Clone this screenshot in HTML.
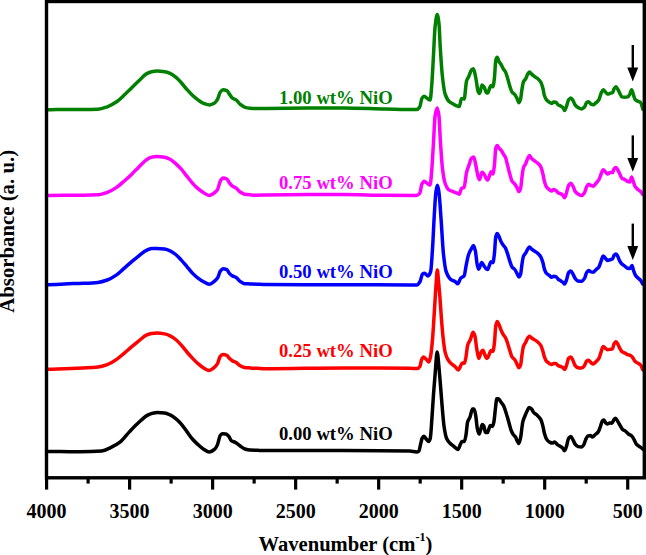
<!DOCTYPE html>
<html><head><meta charset="utf-8"><style>
html,body{margin:0;padding:0;background:#fff;}
body{width:646px;height:555px;overflow:hidden;}
svg{display:block;}
.t{font-family:"Liberation Serif",serif;font-weight:bold;font-size:20px;}
.l{font-family:"Liberation Serif",serif;font-weight:bold;font-size:18.7px;}
.a{font-family:"Liberation Serif",serif;font-weight:bold;font-size:21px;}
</style></head><body>
<svg width="646" height="555" viewBox="0 0 646 555">
<path fill="none" stroke="#008000" stroke-width="3.5" stroke-linejoin="round" stroke-linecap="round" d="M46.6,109.8C47.03,109.80 47.47,109.80 47.9,109.8C53.47,109.80 59.03,109.40 64.6,109.4C70.80,109.40 77.00,109.40 83.2,109.4C88.13,109.40 93.07,109.34 98.0,109.2C101.10,109.11 104.20,107.88 107.3,106.8C110.40,105.72 113.50,103.89 116.6,101.8C119.07,100.14 121.53,97.59 124.0,95.3C126.50,92.98 129.00,90.33 131.5,87.9C133.97,85.50 136.43,83.13 138.9,80.8C141.37,78.47 143.83,75.29 146.3,73.9C148.07,72.91 149.83,72.01 151.6,71.7C153.43,71.38 155.27,71.10 157.1,71.1C159.60,71.10 162.10,71.37 164.6,71.7C166.43,71.94 168.27,72.63 170.1,73.4C171.97,74.19 173.83,75.61 175.7,77.1C177.57,78.59 179.43,80.67 181.3,82.7C183.17,84.73 185.03,87.29 186.9,89.4C188.73,91.47 190.57,93.59 192.4,95.3C194.27,97.04 196.13,98.60 198.0,99.9C199.87,101.20 201.73,102.62 203.6,103.3C205.67,104.05 207.73,104.90 209.8,104.9C211.27,104.90 212.73,104.14 214.2,103.3C215.30,102.67 216.40,101.22 217.5,99.4C218.43,97.86 219.37,93.17 220.3,92.0C221.23,90.83 222.17,89.70 223.1,89.7C224.33,89.70 225.57,90.13 226.8,90.7C227.73,91.13 228.67,93.17 229.6,94.4C230.53,95.63 231.47,97.42 232.4,98.1C233.63,99.00 234.87,99.08 236.1,99.9C237.50,100.83 238.90,103.27 240.3,104.4C241.87,105.66 243.43,107.00 245.0,107.4C246.67,107.83 248.33,108.06 250.0,108.2C252.50,108.41 255.00,108.60 257.5,108.6C260.33,108.60 263.17,108.43 266.0,108.4C291.87,108.09 317.73,107.90 343.6,107.9C357.53,107.90 371.47,108.69 385.4,109.0C395.77,109.23 406.13,109.60 416.5,109.6C417.57,109.60 418.63,108.55 419.7,107.1C420.43,106.10 421.17,99.57 421.9,98.4C422.63,97.23 423.37,96.20 424.1,96.2C425.17,96.20 426.23,97.71 427.3,98.4C428.23,99.00 429.17,100.10 430.1,100.1C430.60,100.10 431.10,92.84 431.6,87.2C432.20,80.44 432.80,67.29 433.4,56.9C433.97,47.09 434.53,31.66 435.1,26.6C435.80,20.35 436.50,14.40 437.2,14.4C437.80,14.40 438.40,18.87 439.0,24.0C439.43,27.70 439.87,41.35 440.3,48.2C441.00,59.26 441.70,70.12 442.4,76.4C443.27,84.18 444.13,90.89 445.0,93.6C446.30,97.66 447.60,99.92 448.9,101.2C450.33,102.61 451.77,103.19 453.2,104.0C454.67,104.83 456.13,105.75 457.6,106.2C458.17,106.37 458.73,106.60 459.3,106.6C460.03,106.60 460.77,98.40 461.5,98.4C462.37,98.40 463.23,99.10 464.1,99.1C464.93,99.10 465.77,83.24 466.6,80.7C467.33,78.46 468.07,77.95 468.8,76.4C469.73,74.43 470.67,70.77 471.6,69.9C472.20,69.34 472.80,68.80 473.4,68.8C474.23,68.80 475.07,74.58 475.9,78.5C476.63,81.95 477.37,89.90 478.1,91.5C478.60,92.59 479.10,93.60 479.6,93.6C480.40,93.60 481.20,85.00 482.0,85.0C482.73,85.00 483.47,86.14 484.2,87.2C484.90,88.21 485.60,92.26 486.3,92.6C486.77,92.83 487.23,93.00 487.7,93.0C488.33,93.00 488.97,89.72 489.6,88.3C490.07,87.25 490.53,85.40 491.0,85.4C491.63,85.40 492.27,86.80 492.9,86.8C493.40,86.80 493.90,82.18 494.4,78.2C494.87,74.48 495.33,61.87 495.8,60.2C496.27,58.53 496.73,57.30 497.2,57.3C497.80,57.30 498.40,60.54 499.0,61.6C499.70,62.83 500.40,63.37 501.1,64.5C501.83,65.69 502.57,67.58 503.3,68.8C504.03,70.02 504.77,70.57 505.5,72.0C506.20,73.37 506.90,75.93 507.6,78.2C508.33,80.57 509.07,83.87 509.8,86.1C510.53,88.33 511.27,90.87 512.0,91.9C512.93,93.21 513.87,93.35 514.8,94.5C515.53,95.41 516.27,96.94 517.0,98.4C517.63,99.66 518.27,102.70 518.9,102.7C519.47,102.70 520.03,100.99 520.6,99.1C521.07,97.54 521.53,91.70 522.0,89.0C522.50,86.11 523.00,82.91 523.5,81.8C524.20,80.25 524.90,80.10 525.6,78.9C526.33,77.64 527.07,74.98 527.8,73.9C528.37,73.06 528.93,72.00 529.5,72.0C530.13,72.00 530.77,73.32 531.4,73.9C532.37,74.78 533.33,75.59 534.3,76.3C535.27,77.01 536.23,77.42 537.2,78.2C538.40,79.17 539.60,80.12 540.8,82.1C541.50,83.26 542.20,85.71 542.9,88.3C543.40,90.15 543.90,94.03 544.4,95.5C545.10,97.56 545.80,98.93 546.5,99.8C547.47,101.00 548.43,101.70 549.4,102.3C550.13,102.76 550.87,103.40 551.6,103.4C552.30,103.40 553.00,102.00 553.7,102.0C554.43,102.00 555.17,102.12 555.9,102.3C556.63,102.48 557.37,104.39 558.1,104.9C559.07,105.58 560.03,105.75 561.0,106.3C561.70,106.70 562.40,106.99 563.1,107.7C563.60,108.21 564.10,110.60 564.6,110.6C565.23,110.60 565.87,107.95 566.5,106.3C567.20,104.47 567.90,100.75 568.6,99.8C569.33,98.81 570.07,97.90 570.8,97.9C571.53,97.90 572.27,99.40 573.0,100.5C573.70,101.55 574.40,103.91 575.1,104.8C576.07,106.03 577.03,106.84 578.0,107.4C579.20,108.09 580.40,108.90 581.6,108.9C582.57,108.90 583.53,107.99 584.5,107.0C585.20,106.29 585.90,103.28 586.6,102.7C587.23,102.17 587.87,101.70 588.5,101.7C589.33,101.70 590.17,103.69 591.0,104.1C591.70,104.44 592.40,104.80 593.1,104.8C594.07,104.80 595.03,103.51 596.0,102.7C596.97,101.89 597.93,101.28 598.9,99.8C599.63,98.68 600.37,94.89 601.1,93.3C601.80,91.78 602.50,89.70 603.2,89.7C603.93,89.70 604.67,91.17 605.4,91.9C606.10,92.60 606.80,94.00 607.5,94.0C608.47,94.00 609.43,93.57 610.4,93.3C611.13,93.10 611.87,93.04 612.6,92.6C613.07,92.32 613.53,89.76 614.0,89.0C614.63,87.97 615.27,86.80 615.9,86.8C616.47,86.80 617.03,88.13 617.6,89.0C618.33,90.13 619.07,91.96 619.8,93.3C620.50,94.58 621.20,96.71 621.9,96.9C622.87,97.16 623.83,97.30 624.8,97.3C625.77,97.30 626.73,97.15 627.7,96.9C628.43,96.71 629.17,95.29 629.9,94.0C630.47,93.00 631.03,89.70 631.6,89.7C632.13,89.70 632.67,92.49 633.2,94.0C633.77,95.61 634.33,98.40 634.9,99.1C635.87,100.29 636.83,100.62 637.8,101.2C638.77,101.78 639.73,101.81 640.7,102.7C641.40,103.34 642.10,106.97 642.8,109.1"/><path fill="none" stroke="#ff00ff" stroke-width="3.5" stroke-linejoin="round" stroke-linecap="round" d="M46.6,195.6C47.03,195.57 47.47,195.52 47.9,195.5C53.47,195.30 59.03,195.20 64.6,195.2C70.80,195.20 77.00,195.20 83.2,195.2C88.13,195.20 93.07,195.06 98.0,194.8C101.10,194.64 104.20,193.48 107.3,192.4C110.40,191.32 113.50,189.45 116.6,187.4C119.07,185.77 121.53,183.35 124.0,181.2C126.50,179.02 129.00,176.79 131.5,174.4C133.97,172.04 136.43,169.31 138.9,166.9C141.37,164.49 143.83,161.55 146.3,159.9C148.07,158.72 149.83,157.42 151.6,157.1C153.43,156.77 155.27,156.50 157.1,156.5C159.60,156.50 162.10,156.88 164.6,157.3C166.43,157.61 168.27,158.40 170.1,159.3C171.97,160.22 173.83,161.98 175.7,163.6C177.57,165.22 179.43,167.13 181.3,169.2C183.17,171.27 185.03,173.86 186.9,176.2C188.73,178.50 190.57,181.06 192.4,183.1C194.27,185.18 196.13,187.14 198.0,188.7C199.87,190.26 201.73,191.60 203.6,192.7C205.47,193.80 207.33,195.50 209.2,195.5C210.73,195.50 212.27,194.30 213.8,193.3C215.03,192.49 216.27,191.49 217.5,189.6C218.43,188.17 219.37,182.71 220.3,181.2C221.23,179.69 222.17,178.10 223.1,178.1C224.33,178.10 225.57,178.47 226.8,179.0C227.73,179.40 228.67,181.92 229.6,183.1C230.53,184.28 231.47,185.53 232.4,186.2C233.63,187.08 234.87,187.26 236.1,188.1C237.33,188.94 238.57,190.96 239.8,191.8C241.37,192.87 242.93,193.91 244.5,194.2C246.33,194.54 248.17,194.67 250.0,194.8C252.50,194.98 255.00,195.20 257.5,195.2C260.33,195.20 263.17,195.03 266.0,195.0C291.87,194.69 317.73,194.50 343.6,194.5C357.53,194.50 371.47,195.17 385.4,195.3C395.60,195.40 405.80,195.50 416.0,195.5C417.23,195.50 418.47,194.72 419.7,193.4C420.43,192.62 421.17,185.57 421.9,184.1C422.63,182.63 423.37,181.20 424.1,181.2C425.17,181.20 426.23,182.71 427.3,183.4C428.23,184.00 429.17,185.10 430.1,185.1C430.60,185.10 431.10,177.70 431.6,172.2C432.20,165.60 432.80,153.75 433.4,144.1C433.97,134.98 434.53,119.45 435.1,115.9C435.80,111.51 436.50,108.00 437.2,108.0C437.80,108.00 438.40,111.57 439.0,116.0C439.43,119.20 439.87,132.93 440.3,139.7C441.00,150.64 441.70,162.02 442.4,167.8C443.27,174.95 444.13,180.56 445.0,183.0C446.30,186.66 447.60,189.05 448.9,189.9C450.33,190.84 451.77,191.02 453.2,191.6C454.67,192.19 456.13,192.75 457.6,193.4C458.17,193.65 458.73,194.20 459.3,194.2C460.03,194.20 460.77,188.95 461.5,188.4C462.37,187.76 463.23,187.99 464.1,187.3C464.93,186.64 465.77,175.48 466.6,172.2C467.33,169.31 468.07,167.78 468.8,165.7C469.73,163.05 470.67,158.87 471.6,158.1C472.33,157.50 473.07,157.00 473.8,157.0C474.50,157.00 475.20,162.56 475.9,165.7C476.63,168.99 477.37,174.37 478.1,176.5C478.60,177.95 479.10,179.70 479.6,179.7C480.40,179.70 481.20,172.20 482.0,172.2C482.73,172.20 483.47,173.34 484.2,174.3C484.90,175.21 485.60,177.64 486.3,178.6C486.77,179.24 487.23,180.10 487.7,180.1C488.33,180.10 488.97,177.00 489.6,175.4C490.07,174.22 490.53,171.80 491.0,171.8C491.63,171.80 492.27,174.00 492.9,174.0C493.40,174.00 493.90,169.33 494.4,165.4C494.87,161.73 495.33,149.61 495.8,148.1C496.27,146.59 496.73,145.50 497.2,145.5C497.80,145.50 498.40,147.39 499.0,148.1C499.70,148.93 500.40,149.33 501.1,150.2C501.83,151.11 502.57,152.60 503.3,153.8C504.03,155.00 504.77,155.72 505.5,157.4C506.20,159.01 506.90,162.70 507.6,165.4C508.33,168.23 509.07,171.39 509.8,174.0C510.53,176.61 511.27,180.02 512.0,181.2C512.93,182.70 513.87,182.91 514.8,184.1C515.53,185.04 516.27,186.36 517.0,187.7C517.63,188.86 518.27,191.60 518.9,191.6C519.47,191.60 520.03,190.17 520.6,188.4C521.07,186.94 521.53,180.22 522.0,176.9C522.50,173.34 523.00,168.89 523.5,167.5C524.20,165.55 524.90,165.34 525.6,163.9C526.33,162.39 527.07,159.60 527.8,158.2C528.37,157.12 528.93,155.60 529.5,155.6C530.13,155.60 530.77,157.52 531.4,158.2C532.37,159.24 533.33,159.94 534.3,160.7C535.27,161.46 536.23,161.96 537.2,162.8C538.40,163.84 539.60,164.69 540.8,166.8C541.50,168.03 542.20,171.17 542.9,174.0C543.40,176.02 543.90,179.42 544.4,181.2C545.10,183.69 545.80,186.03 546.5,187.0C547.47,188.35 548.43,188.89 549.4,189.6C550.13,190.14 550.87,191.00 551.6,191.0C552.30,191.00 553.00,189.60 553.7,189.6C554.43,189.60 555.17,190.15 555.9,190.6C556.63,191.05 557.37,192.27 558.1,192.7C559.07,193.27 560.03,193.36 561.0,193.9C561.70,194.29 562.40,194.87 563.1,195.6C563.60,196.12 564.10,197.70 564.6,197.7C565.23,197.70 565.87,194.58 566.5,192.7C567.20,190.62 567.90,186.59 568.6,185.5C569.33,184.36 570.07,183.30 570.8,183.3C571.53,183.30 572.27,184.94 573.0,186.2C573.70,187.40 574.40,190.31 575.1,191.3C576.07,192.67 577.03,193.53 578.0,194.1C579.20,194.81 580.40,195.60 581.6,195.6C582.57,195.60 583.53,194.16 584.5,192.7C585.20,191.65 585.90,188.17 586.6,186.9C587.23,185.75 587.87,184.30 588.5,184.3C589.33,184.30 590.17,185.17 591.0,185.5C591.70,185.77 592.40,186.20 593.1,186.2C594.07,186.20 595.03,184.37 596.0,183.3C596.97,182.23 597.93,181.35 598.9,179.7C599.63,178.45 600.37,175.68 601.1,174.0C601.80,172.40 602.50,169.70 603.2,169.7C603.93,169.70 604.67,171.07 605.4,171.8C606.10,172.50 606.80,174.00 607.5,174.0C608.47,174.00 609.43,172.50 610.4,172.5C611.13,172.50 611.87,172.50 612.6,172.5C613.07,172.50 613.53,169.45 614.0,168.9C614.63,168.15 615.27,167.50 615.9,167.5C616.47,167.50 617.03,168.83 617.6,169.7C618.33,170.83 619.07,172.53 619.8,174.0C620.50,175.40 621.20,177.80 621.9,178.3C622.87,178.99 623.83,179.00 624.8,179.5C625.77,180.00 626.73,181.23 627.7,181.5C628.43,181.71 629.17,181.90 629.9,181.9C630.47,181.90 631.03,177.10 631.6,177.1C632.13,177.10 632.67,179.74 633.2,181.2C633.77,182.75 634.33,185.23 634.9,186.2C635.87,187.85 636.83,188.64 637.8,189.5C638.77,190.36 639.73,190.68 640.7,191.6C641.40,192.27 642.10,193.47 642.8,194.4"/><path fill="none" stroke="#0000ff" stroke-width="3.5" stroke-linejoin="round" stroke-linecap="round" d="M46.6,284.9C47.03,284.87 47.47,284.83 47.9,284.8C53.47,284.43 59.03,284.13 64.6,283.9C70.80,283.65 77.00,283.56 83.2,283.3C88.13,283.09 93.07,282.91 98.0,282.4C101.10,282.08 104.20,281.09 107.3,280.0C110.40,278.91 113.50,277.01 116.6,274.9C119.07,273.22 121.53,270.55 124.0,268.4C126.50,266.22 129.00,264.01 131.5,261.9C133.97,259.82 136.43,257.71 138.9,255.8C141.37,253.89 143.83,251.52 146.3,250.4C148.07,249.60 149.83,248.72 151.6,248.6C153.43,248.48 155.27,248.40 157.1,248.4C159.60,248.40 162.10,248.73 164.6,249.1C166.43,249.37 168.27,250.03 170.1,250.8C171.97,251.59 173.83,253.01 175.7,254.5C177.57,255.99 179.43,258.09 181.3,260.1C183.17,262.11 185.03,264.41 186.9,266.6C188.73,268.75 190.57,271.23 192.4,273.1C194.27,275.00 196.13,276.68 198.0,278.1C199.87,279.52 201.73,280.83 203.6,281.8C205.47,282.77 207.33,284.20 209.2,284.2C210.73,284.20 212.27,282.86 213.8,281.8C215.03,280.94 216.27,279.89 217.5,278.1C218.43,276.75 219.37,272.39 220.3,271.2C221.23,270.01 222.17,268.80 223.1,268.8C224.33,268.80 225.57,269.17 226.8,269.7C227.73,270.10 228.67,272.64 229.6,273.6C230.53,274.56 231.47,275.39 232.4,275.9C233.63,276.58 234.87,276.69 236.1,277.4C237.33,278.11 238.57,280.21 239.8,281.1C241.37,282.23 242.93,283.59 244.5,283.7C246.33,283.83 248.17,283.83 250.0,283.9C252.50,284.00 255.00,284.11 257.5,284.2C260.33,284.31 263.17,284.47 266.0,284.5C291.87,284.73 317.73,284.74 343.6,284.8C365.73,284.85 387.87,284.90 410.0,284.9C412.27,284.90 414.53,284.90 416.8,284.9C417.90,284.90 419.00,283.27 420.1,281.5C420.87,280.27 421.63,274.65 422.4,274.1C423.13,273.57 423.87,273.20 424.6,273.2C425.73,273.20 426.87,275.90 428.0,275.9C428.90,275.90 429.80,274.19 430.7,271.4C431.30,269.54 431.90,257.91 432.5,248.9C433.10,239.89 433.70,224.87 434.3,215.1C434.83,206.42 435.37,195.62 435.9,192.0C436.40,188.61 436.90,185.30 437.4,185.3C437.90,185.30 438.40,188.80 438.9,192.0C439.63,196.69 440.37,209.68 441.1,219.6C441.87,229.97 442.63,246.30 443.4,253.4C444.30,261.74 445.20,268.77 446.1,271.4C447.60,275.78 449.10,278.15 450.6,279.3C452.10,280.45 453.60,280.55 455.1,281.5C456.00,282.07 456.90,283.80 457.8,283.8C458.77,283.80 459.73,279.18 460.7,278.2C461.83,277.05 462.97,277.33 464.1,275.9C464.83,274.97 465.57,268.07 466.3,264.6C467.07,260.97 467.83,256.68 468.6,254.5C469.50,251.94 470.40,250.49 471.3,248.9C472.03,247.61 472.77,245.50 473.5,245.5C474.13,245.50 474.77,248.41 475.4,251.1C476.00,253.65 476.60,262.02 477.2,264.6C477.70,266.75 478.20,269.20 478.7,269.2C479.70,269.20 480.70,262.40 481.7,262.4C482.43,262.40 483.17,264.78 483.9,265.8C484.80,267.05 485.70,268.83 486.6,269.2C486.97,269.35 487.33,269.50 487.7,269.5C488.33,269.50 488.97,266.13 489.6,264.7C490.07,263.64 490.53,261.80 491.0,261.8C491.63,261.80 492.27,262.60 492.9,262.6C493.40,262.60 493.90,257.86 494.4,253.9C494.87,250.20 495.33,238.35 495.8,236.6C496.27,234.85 496.73,233.50 497.2,233.5C497.80,233.50 498.40,235.40 499.0,236.6C499.70,238.00 500.40,240.33 501.1,241.7C501.83,243.14 502.57,244.23 503.3,245.3C504.03,246.37 504.77,246.90 505.5,248.2C506.20,249.45 506.90,251.82 507.6,253.9C508.33,256.07 509.07,258.96 509.8,261.1C510.53,263.24 511.27,265.87 512.0,266.9C512.93,268.21 513.87,268.35 514.8,269.5C515.53,270.41 516.27,272.06 517.0,273.4C517.63,274.56 518.27,277.00 518.9,277.0C519.47,277.00 520.03,275.70 520.6,274.1C521.07,272.79 521.53,266.85 522.0,264.0C522.50,260.95 523.00,257.23 523.5,256.1C524.20,254.52 524.90,254.33 525.6,253.2C526.33,252.01 527.07,249.93 527.8,248.9C528.37,248.10 528.93,247.00 529.5,247.0C530.13,247.00 530.77,248.36 531.4,248.9C532.37,249.72 533.33,250.35 534.3,251.0C535.27,251.65 536.23,252.04 537.2,252.8C538.40,253.75 539.60,254.82 540.8,256.8C541.50,257.95 542.20,260.21 542.9,262.6C543.40,264.31 543.90,267.68 544.4,269.1C545.10,271.09 545.80,272.63 546.5,273.4C547.47,274.46 548.43,274.76 549.4,275.5C550.13,276.06 550.87,277.30 551.6,277.3C552.30,277.30 553.00,276.30 553.7,276.3C554.43,276.30 555.17,276.47 555.9,276.7C556.63,276.93 557.37,278.49 558.1,279.1C559.07,279.90 560.03,280.34 561.0,281.0C561.70,281.48 562.40,281.91 563.1,282.5C563.60,282.92 564.10,284.00 564.6,284.0C565.23,284.00 565.87,281.50 566.5,279.8C567.20,277.93 567.90,273.49 568.6,272.6C569.33,271.67 570.07,270.90 570.8,270.9C571.53,270.90 572.27,272.85 573.0,274.1C573.70,275.29 574.40,277.51 575.1,278.4C576.07,279.63 577.03,280.85 578.0,281.0C579.20,281.19 580.40,281.30 581.6,281.3C582.57,281.30 583.53,279.86 584.5,278.4C585.20,277.35 585.90,273.70 586.6,272.6C587.23,271.61 587.87,270.50 588.5,270.5C589.33,270.50 590.17,271.67 591.0,271.9C591.70,272.10 592.40,272.30 593.1,272.3C594.07,272.30 595.03,270.60 596.0,269.7C596.97,268.80 597.93,268.30 598.9,266.9C599.63,265.84 600.37,262.93 601.1,261.1C601.80,259.35 602.50,256.10 603.2,256.1C603.93,256.10 604.67,257.47 605.4,258.2C606.10,258.90 606.80,260.40 607.5,260.4C608.47,260.40 609.43,259.98 610.4,259.7C611.13,259.49 611.87,259.39 612.6,258.9C613.07,258.59 613.53,255.85 614.0,255.3C614.63,254.55 615.27,253.90 615.9,253.9C616.47,253.90 617.03,255.18 617.6,256.1C618.33,257.30 619.07,259.84 619.8,261.1C620.50,262.30 621.20,263.32 621.9,264.0C622.87,264.93 623.83,265.38 624.8,266.1C625.77,266.82 626.73,268.08 627.7,268.3C628.43,268.46 629.17,268.60 629.9,268.6C630.60,268.60 631.30,265.40 632.0,265.4C632.50,265.40 633.00,269.09 633.5,270.5C634.20,272.48 634.90,274.49 635.6,275.5C636.57,276.89 637.53,277.46 638.5,278.4C639.23,279.12 639.97,279.60 640.7,280.5C641.40,281.36 642.10,282.90 642.8,284.1"/><path fill="none" stroke="#ff0000" stroke-width="3.5" stroke-linejoin="round" stroke-linecap="round" d="M46.6,369.3C47.03,369.27 47.47,369.22 47.9,369.2C53.47,368.93 59.03,368.90 64.6,368.7C70.80,368.48 77.00,368.21 83.2,367.9C88.13,367.65 93.07,367.51 98.0,367.0C101.10,366.68 104.20,365.69 107.3,364.6C110.40,363.51 113.50,361.47 116.6,359.4C119.07,357.76 121.53,355.47 124.0,353.4C126.50,351.31 129.00,349.01 131.5,346.9C133.97,344.82 136.43,342.75 138.9,340.8C141.37,338.85 143.83,336.33 146.3,335.2C148.07,334.39 149.83,333.61 151.6,333.4C153.43,333.18 155.27,333.00 157.1,333.0C159.60,333.00 162.10,333.44 164.6,333.9C166.43,334.23 168.27,334.97 170.1,335.8C171.97,336.65 173.83,338.01 175.7,339.5C177.57,340.99 179.43,343.04 181.3,345.1C183.17,347.16 185.03,349.82 186.9,352.0C188.73,354.14 190.57,356.17 192.4,358.1C194.27,360.06 196.13,362.10 198.0,363.7C199.87,365.30 201.73,366.83 203.6,367.9C205.47,368.97 207.33,370.50 209.2,370.5C210.73,370.50 212.27,369.07 213.8,367.9C215.03,366.96 216.27,365.70 217.5,363.7C218.43,362.18 219.37,357.17 220.3,356.2C221.23,355.23 222.17,354.40 223.1,354.4C224.33,354.40 225.57,354.79 226.8,355.3C227.73,355.69 228.67,357.70 229.6,358.6C230.53,359.50 231.47,360.39 232.4,360.9C233.63,361.58 234.87,361.73 236.1,362.4C237.33,363.07 238.57,364.82 239.8,365.5C241.37,366.37 242.93,367.16 244.5,367.4C246.33,367.68 248.17,367.78 250.0,367.9C252.50,368.07 255.00,368.17 257.5,368.3C260.33,368.44 263.17,368.70 266.0,368.7C291.87,368.70 317.73,367.90 343.6,367.9C365.73,367.90 387.87,368.01 410.0,368.3C412.40,368.33 414.80,368.60 417.2,368.6C418.10,368.60 419.00,367.73 419.9,366.5C420.50,365.68 421.10,360.42 421.7,359.3C422.30,358.18 422.90,357.10 423.5,357.1C424.40,357.10 425.30,358.49 426.2,359.3C427.10,360.11 428.00,362.00 428.9,362.0C429.50,362.00 430.10,358.72 430.7,355.7C431.30,352.68 431.90,346.26 432.5,339.5C433.10,332.74 433.70,321.64 434.3,312.4C434.90,303.16 435.50,291.97 436.1,284.0C436.50,278.69 436.90,270.00 437.3,270.0C437.73,270.00 438.17,277.59 438.6,282.0C438.97,285.73 439.33,289.86 439.7,294.4C440.30,301.83 440.90,312.19 441.5,319.6C442.10,327.01 442.70,334.36 443.3,339.5C443.90,344.64 444.50,349.71 445.1,352.1C446.00,355.68 446.90,357.74 447.8,359.3C449.00,361.38 450.20,362.68 451.4,363.8C452.60,364.93 453.80,365.43 455.0,366.5C456.10,367.48 457.20,370.10 458.3,370.1C459.03,370.10 459.77,367.42 460.5,366.1C461.10,365.02 461.70,362.90 462.3,362.9C463.00,362.90 463.70,363.20 464.4,363.2C464.90,363.20 465.40,359.94 465.9,357.5C466.50,354.57 467.10,346.84 467.7,344.9C468.60,341.99 469.50,341.56 470.4,339.5C471.30,337.44 472.20,332.30 473.1,332.3C473.70,332.30 474.30,334.03 474.9,335.9C475.50,337.77 476.10,345.10 476.7,348.5C477.40,352.46 478.10,358.40 478.8,358.4C479.60,358.40 480.40,353.23 481.2,352.1C481.80,351.25 482.40,350.30 483.0,350.3C483.60,350.30 484.20,353.47 484.8,354.8C485.40,356.13 486.00,358.40 486.6,358.4C486.97,358.40 487.33,358.05 487.7,357.7C488.33,357.10 488.97,354.65 489.6,353.3C490.07,352.30 490.53,350.50 491.0,350.5C491.63,350.50 492.27,351.20 492.9,351.2C493.40,351.20 493.90,346.94 494.4,343.2C494.87,339.71 495.33,328.20 495.8,325.9C496.27,323.60 496.73,321.60 497.2,321.6C497.80,321.60 498.40,323.29 499.0,324.5C499.70,325.92 500.40,328.70 501.1,330.3C501.83,331.98 502.57,333.38 503.3,334.6C504.03,335.82 504.77,336.43 505.5,337.8C506.20,339.10 506.90,341.17 507.6,343.2C508.33,345.32 509.07,348.23 509.8,350.5C510.53,352.77 511.27,355.76 512.0,356.9C512.93,358.35 513.87,358.52 514.8,359.8C515.53,360.81 516.27,362.69 517.0,364.1C517.63,365.32 518.27,367.70 518.9,367.7C519.47,367.70 520.03,366.45 520.6,364.9C521.07,363.62 521.53,357.80 522.0,354.8C522.50,351.58 523.00,347.46 523.5,346.1C524.20,344.19 524.90,343.83 525.6,342.5C526.33,341.11 527.07,338.70 527.8,337.8C528.37,337.10 528.93,336.30 529.5,336.3C530.13,336.30 530.77,337.36 531.4,337.8C532.37,338.48 533.33,338.98 534.3,339.6C535.27,340.22 536.23,340.72 537.2,341.5C538.40,342.47 539.60,343.46 540.8,345.4C541.50,346.53 542.20,348.94 542.9,351.2C543.40,352.81 543.90,355.53 544.4,356.9C545.10,358.82 545.80,360.53 546.5,361.3C547.47,362.37 548.43,362.80 549.4,363.4C550.13,363.85 550.87,364.60 551.6,364.6C552.30,364.60 553.00,363.40 553.7,363.4C554.43,363.40 555.17,363.40 555.9,363.4C556.63,363.40 557.37,365.22 558.1,365.6C559.07,366.11 560.03,366.19 561.0,366.6C561.70,366.89 562.40,367.18 563.1,367.7C563.60,368.07 564.10,369.50 564.6,369.5C565.23,369.50 565.87,367.15 566.5,365.5C567.20,363.68 567.90,359.06 568.6,358.3C569.33,357.51 570.07,356.90 570.8,356.9C571.53,356.90 572.27,359.08 573.0,360.5C573.70,361.86 574.40,364.67 575.1,365.5C576.07,366.64 577.03,367.55 578.0,367.7C579.20,367.89 580.40,368.00 581.6,368.0C582.57,368.00 583.53,366.70 584.5,365.5C585.20,364.63 585.90,361.78 586.6,361.2C587.23,360.67 587.87,360.20 588.5,360.2C589.33,360.20 590.17,362.04 591.0,362.7C591.70,363.26 592.40,364.10 593.1,364.1C594.07,364.10 595.03,362.64 596.0,361.7C596.97,360.76 597.93,359.95 598.9,358.3C599.63,357.05 600.37,353.92 601.1,351.9C601.80,349.97 602.50,346.40 603.2,346.4C603.93,346.40 604.67,347.75 605.4,348.3C606.10,348.83 606.80,349.70 607.5,349.7C608.47,349.70 609.43,349.48 610.4,349.3C611.13,349.16 611.87,349.10 612.6,348.7C613.07,348.45 613.53,344.70 614.0,343.9C614.63,342.81 615.27,341.80 615.9,341.8C616.47,341.80 617.03,343.04 617.6,343.9C618.33,345.01 619.07,347.01 619.8,348.3C620.50,349.53 621.20,351.07 621.9,351.6C622.87,352.33 623.83,352.49 624.8,353.0C625.77,353.51 626.73,354.34 627.7,354.7C628.67,355.06 629.63,355.07 630.6,355.5C631.30,355.81 632.00,356.73 632.7,357.6C633.43,358.51 634.17,360.50 634.9,361.2C635.87,362.12 636.83,362.45 637.8,363.1C638.77,363.75 639.73,364.05 640.7,365.1C641.40,365.86 642.10,368.30 642.8,369.9"/><path fill="none" stroke="#000000" stroke-width="3.5" stroke-linejoin="round" stroke-linecap="round" d="M46.6,451.6C51.07,451.57 55.53,451.50 60.0,451.5C66.67,451.50 73.33,451.80 80.0,451.8C87.23,451.80 94.47,451.55 101.7,451.0C104.80,450.77 107.90,448.86 111.0,447.4C114.10,445.94 117.20,444.21 120.3,441.8C123.40,439.39 126.50,434.84 129.6,431.6C132.70,428.36 135.80,425.05 138.9,422.3C142.00,419.55 145.10,416.34 148.2,414.9C150.03,414.05 151.87,413.31 153.7,413.0C154.83,412.81 155.97,412.60 157.1,412.6C159.60,412.60 162.10,412.76 164.6,413.0C166.43,413.18 168.27,414.07 170.1,414.9C171.97,415.75 173.83,417.13 175.7,418.6C177.57,420.07 179.43,421.98 181.3,424.1C183.17,426.22 185.03,429.09 186.9,431.6C188.73,434.06 190.57,436.90 192.4,439.0C194.27,441.14 196.13,442.92 198.0,444.6C199.87,446.28 201.73,448.04 203.6,449.2C205.47,450.36 207.33,452.00 209.2,452.0C211.03,452.00 212.87,450.71 214.7,449.2C215.63,448.43 216.57,446.65 217.5,444.6C218.43,442.55 219.37,436.33 220.3,435.3C221.03,434.49 221.77,433.80 222.5,433.8C223.63,433.80 224.77,433.92 225.9,434.1C226.83,434.25 227.77,435.23 228.7,436.2C229.63,437.17 230.57,440.27 231.5,440.9C232.73,441.73 233.97,441.76 235.2,442.4C236.63,443.14 238.07,444.53 239.5,445.5C241.33,446.74 243.17,448.45 245.0,449.0C246.67,449.50 248.33,449.88 250.0,450.0C252.50,450.17 255.00,450.21 257.5,450.3C260.33,450.41 263.17,450.60 266.0,450.6C291.87,450.60 317.73,450.60 343.6,450.6C365.73,450.60 387.87,450.68 410.0,451.1C412.17,451.14 414.33,452.00 416.5,452.0C417.30,452.00 418.10,451.68 418.9,451.1C419.43,450.71 419.97,446.69 420.5,444.6C421.07,442.38 421.63,439.26 422.2,438.2C422.73,437.20 423.27,436.20 423.8,436.2C424.60,436.20 425.40,438.16 426.2,439.0C427.03,439.88 427.87,441.40 428.7,441.4C429.23,441.40 429.77,440.03 430.3,438.2C430.83,436.37 431.37,425.93 431.9,418.7C432.43,411.47 432.97,401.61 433.5,394.3C434.07,386.54 434.63,379.87 435.2,373.2C435.83,365.75 436.47,352.00 437.1,352.0C437.80,352.00 438.50,362.90 439.2,370.0C439.73,375.41 440.27,382.94 440.8,389.5C441.37,396.47 441.93,404.29 442.5,410.6C443.03,416.54 443.57,423.27 444.1,426.8C444.90,432.10 445.70,436.37 446.5,438.2C447.60,440.72 448.70,441.83 449.8,443.0C451.13,444.42 452.47,445.23 453.8,446.3C455.17,447.40 456.53,449.50 457.9,449.5C458.70,449.50 459.50,446.22 460.3,444.6C460.83,443.52 461.37,441.40 461.9,441.4C462.73,441.40 463.57,441.40 464.4,441.4C464.93,441.40 465.47,437.79 466.0,434.9C466.53,432.01 467.07,423.68 467.6,421.9C468.40,419.22 469.20,419.08 470.0,417.1C470.83,415.03 471.67,408.90 472.5,408.9C473.03,408.90 473.57,408.90 474.1,408.9C474.63,408.90 475.17,412.51 475.7,415.4C476.23,418.29 476.77,425.86 477.3,428.4C477.87,431.10 478.43,434.10 479.0,434.1C479.53,434.10 480.07,431.58 480.6,430.0C481.13,428.42 481.67,424.40 482.2,424.4C482.73,424.40 483.27,425.16 483.8,426.0C484.37,426.89 484.93,432.44 485.5,432.5C486.13,432.57 486.77,432.60 487.4,432.6C487.90,432.60 488.40,430.24 488.9,429.0C489.37,427.84 489.83,425.40 490.3,425.4C491.03,425.40 491.77,426.40 492.5,426.4C492.97,426.40 493.43,424.01 493.9,421.8C494.40,419.43 494.90,412.73 495.4,408.8C495.87,405.13 496.33,398.70 496.8,398.7C497.30,398.70 497.80,398.70 498.3,398.7C499.00,398.70 499.70,400.40 500.4,401.3C501.37,402.54 502.33,403.45 503.3,405.2C504.27,406.95 505.23,410.24 506.2,413.2C507.17,416.16 508.13,419.85 509.1,423.2C509.80,425.62 510.50,428.74 511.2,430.5C511.93,432.34 512.67,433.83 513.4,434.8C514.10,435.72 514.80,435.89 515.5,436.9C516.00,437.62 516.50,439.56 517.0,440.5C517.63,441.69 518.27,443.40 518.9,443.4C519.47,443.40 520.03,440.26 520.6,437.7C521.33,434.39 522.07,424.72 522.8,421.8C523.50,419.01 524.20,417.75 524.9,416.0C525.63,414.17 526.37,412.43 527.1,411.0C527.80,409.63 528.50,407.40 529.2,407.4C529.93,407.40 530.67,408.13 531.4,408.8C532.13,409.47 532.87,411.59 533.6,412.4C534.80,413.73 536.00,414.15 537.2,415.3C538.40,416.45 539.60,417.45 540.8,419.6C541.50,420.86 542.20,423.43 542.9,426.1C543.40,428.00 543.90,431.52 544.4,433.3C545.10,435.79 545.80,438.05 546.5,439.1C547.47,440.56 548.43,441.47 549.4,442.0C550.37,442.53 551.33,443.10 552.3,443.1C553.03,443.10 553.77,442.00 554.5,442.0C555.47,442.00 556.43,443.90 557.4,444.6C558.33,445.27 559.27,445.72 560.2,446.3C560.93,446.76 561.67,447.06 562.4,447.7C563.13,448.34 563.87,450.70 564.6,450.7C565.23,450.70 565.87,448.12 566.5,446.3C567.20,444.29 567.90,439.25 568.6,438.3C569.33,437.31 570.07,436.50 570.8,436.5C571.53,436.50 572.27,438.53 573.0,439.8C573.70,441.01 574.40,443.23 575.1,444.1C576.07,445.30 577.03,446.40 578.0,446.6C579.20,446.84 580.40,447.00 581.6,447.0C582.33,447.00 583.07,445.88 583.8,444.8C584.50,443.77 585.20,440.43 585.9,439.1C586.63,437.71 587.37,436.14 588.1,435.9C588.83,435.66 589.57,435.50 590.3,435.5C591.00,435.50 591.70,436.90 592.4,436.9C593.37,436.90 594.33,435.33 595.3,434.5C596.27,433.67 597.23,433.20 598.2,431.9C598.90,430.96 599.60,428.63 600.3,426.8C601.03,424.89 601.77,421.12 602.5,420.6C602.97,420.27 603.43,420.00 603.9,420.0C604.40,420.00 604.90,421.96 605.4,422.5C606.00,423.14 606.60,423.90 607.2,423.9C608.03,423.90 608.87,422.90 609.7,422.9C610.43,422.90 611.17,423.20 611.9,423.2C612.60,423.20 613.30,420.43 614.0,419.6C614.50,419.01 615.00,418.20 615.5,418.2C616.20,418.20 616.90,420.03 617.6,421.1C618.57,422.57 619.53,424.48 620.5,426.1C621.23,427.33 621.97,429.13 622.7,429.7C623.63,430.43 624.57,430.48 625.5,431.1C626.47,431.74 627.43,433.26 628.4,434.0C629.60,434.92 630.80,435.09 632.0,436.2C632.73,436.88 633.47,438.46 634.2,439.8C634.90,441.07 635.60,443.31 636.3,444.1C637.27,445.20 638.23,445.58 639.2,446.3C640.17,447.02 641.13,447.64 642.1,448.4C642.73,448.90 643.37,449.47 644.0,450.0"/>
<line x1="46.60" y1="477.8" x2="46.60" y2="489.6" stroke="#000" stroke-width="3.2"/><line x1="88.11" y1="477.8" x2="88.11" y2="483.6" stroke="#000" stroke-width="3.2"/><line x1="129.62" y1="477.8" x2="129.62" y2="489.6" stroke="#000" stroke-width="3.2"/><line x1="171.12" y1="477.8" x2="171.12" y2="483.6" stroke="#000" stroke-width="3.2"/><line x1="212.63" y1="477.8" x2="212.63" y2="489.6" stroke="#000" stroke-width="3.2"/><line x1="254.14" y1="477.8" x2="254.14" y2="483.6" stroke="#000" stroke-width="3.2"/><line x1="295.65" y1="477.8" x2="295.65" y2="489.6" stroke="#000" stroke-width="3.2"/><line x1="337.15" y1="477.8" x2="337.15" y2="483.6" stroke="#000" stroke-width="3.2"/><line x1="378.66" y1="477.8" x2="378.66" y2="489.6" stroke="#000" stroke-width="3.2"/><line x1="420.17" y1="477.8" x2="420.17" y2="483.6" stroke="#000" stroke-width="3.2"/><line x1="461.68" y1="477.8" x2="461.68" y2="489.6" stroke="#000" stroke-width="3.2"/><line x1="503.18" y1="477.8" x2="503.18" y2="483.6" stroke="#000" stroke-width="3.2"/><line x1="544.69" y1="477.8" x2="544.69" y2="489.6" stroke="#000" stroke-width="3.2"/><line x1="586.20" y1="477.8" x2="586.20" y2="483.6" stroke="#000" stroke-width="3.2"/><line x1="627.71" y1="477.8" x2="627.71" y2="489.6" stroke="#000" stroke-width="3.2"/>
<rect x="46.5" y="1.5" width="597.8" height="476.3" fill="none" stroke="#000" stroke-width="3.4"/>
<text x="46.60" y="518.4" text-anchor="middle" class="t">4000</text><text x="129.62" y="518.4" text-anchor="middle" class="t">3500</text><text x="212.63" y="518.4" text-anchor="middle" class="t">3000</text><text x="295.65" y="518.4" text-anchor="middle" class="t">2500</text><text x="378.66" y="518.4" text-anchor="middle" class="t">2000</text><text x="461.68" y="518.4" text-anchor="middle" class="t">1500</text><text x="544.69" y="518.4" text-anchor="middle" class="t">1000</text><text x="627.71" y="518.4" text-anchor="middle" class="t">500</text>
<line x1="632.8" y1="45" x2="632.8" y2="68.5" stroke="#000" stroke-width="2.4"/><polygon points="627.3,67.5 638.2,67.5 632.8,81.6" fill="#000"/><line x1="632.8" y1="135.4" x2="632.8" y2="158.9" stroke="#000" stroke-width="2.4"/><polygon points="627.3,157.9 638.2,157.9 632.8,171.8" fill="#000"/><line x1="632.8" y1="223.6" x2="632.8" y2="247.1" stroke="#000" stroke-width="2.4"/><polygon points="627.3,246.1 638.2,246.1 632.8,260" fill="#000"/>
<text x="279" y="103.5" fill="#008000" class="l">1.00 wt% NiO</text><text x="279" y="188.5" fill="#ff00ff" class="l">0.75 wt% NiO</text><text x="279" y="277.5" fill="#0000ff" class="l">0.50 wt% NiO</text><text x="279" y="357" fill="#ff0000" class="l">0.25 wt% NiO</text><text x="279" y="439.5" fill="#000000" class="l">0.00 wt% NiO</text>
<text x="258.5" y="550.8" class="a" style="font-size:20.6px">Wavenumber (cm<tspan dy="-9.5" font-size="12px">-1</tspan><tspan dy="9.5">)</tspan></text>
<text transform="translate(14.1,312.8) rotate(-90)" class="a" style="font-size:20.8px">Absorbance (a. u.)</text>
</svg>
</body></html>
